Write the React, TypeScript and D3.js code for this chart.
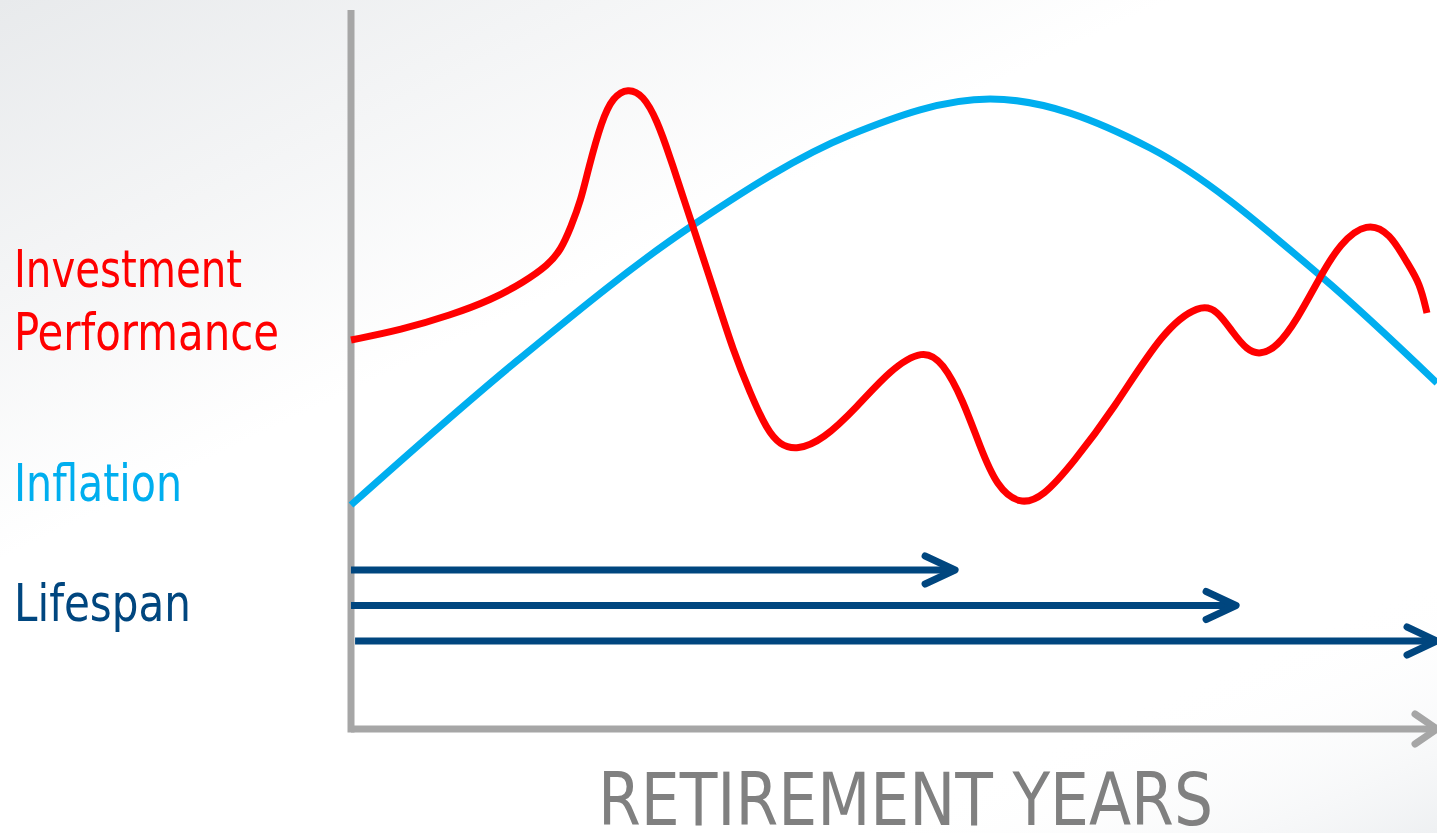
import React from "react";
import * as d3 from "d3";

// Years into retirement (x) and relative level (y, 0–100)
const performanceYears = [0, 1.84, 3.68, 5.16, 6.37, 7.26, 7.73, 8.1, 8.47, 8.73, 9.24, 9.65, 10.2, 10.76, 11.27, 11.75, 12.23, 12.6, 13.48, 14.07, 14.7, 15.32, 15.8, 16.43, 17.38, 18.64, 19.85, 21.07, 21.8, 22.54, 23.17, 23.79, 24.64, 25.49, 26.59, 28.07, 29.91, 31.27, 31.9, 32.49, 33.0, 33.48, 34.11, 34.84, 35.69, 36.43, 37.42, 38.27, 38.9, 39.37, 39.63];
const performanceValues = [55.57, 57.0, 59.14, 61.29, 63.86, 66.29, 68.43, 71.71, 75.57, 79.86, 87.0, 90.29, 91.57, 90.57, 87.0, 81.71, 76.0, 71.71, 61.29, 54.14, 48.0, 42.71, 40.57, 39.86, 41.29, 46.0, 51.29, 54.29, 52.43, 47.0, 40.29, 34.57, 32.0, 33.14, 38.0, 45.57, 57.0, 60.71, 59.86, 56.57, 54.14, 53.43, 54.57, 58.43, 64.57, 69.43, 72.43, 70.86, 66.57, 63.71, 59.43];

const inflationYears = [0, 6.15, 12.6, 18.38, 23.54, 29.43, 35.76, 40];
const inflationValues = [32.0, 52.71, 72.0, 84.86, 90.0, 83.0, 64.57, 49.43];

const lifespanIds = ["short", "medium", "long"];
const lifespanStart = [0, 0, 0.15];
const lifespanEnd = [22.25, 32.6, 40];

const seriesLabels = ["Investment", "Performance", "Inflation", "Lifespan"];
const labelWidths = [228, 265, 168, 177];
const axisTitle = "RETIREMENT YEARS";

const W = 1437;
const H = 833;
const FONT = "'Liberation Sans Narrow', 'Arial Narrow', 'DejaVu Sans Condensed', sans-serif";

export default function App() {
  const x = d3.scaleLinear().domain([0, 40]).range([351, 1437]);
  const y = d3.scaleLinear().domain([0, 100]).range([729, 29]);
  const lane = d3.scalePoint<string>().domain(lifespanIds).range([570, 641]);

  const smooth = d3
    .line<[number, number]>()
    .x((d) => x(d[0]))
    .y((d) => y(d[1]))
    .curve(d3.curveBasis);

  const arc = d3
    .line<[number, number]>()
    .x((d) => x(d[0]))
    .y((d) => y(d[1]))
    .curve(d3.curveMonotoneX);

  const perf = smooth(performanceYears.map((v, i) => [v, performanceValues[i]]) as [number, number][]) || "";
  const infl = arc(inflationYears.map((v, i) => [v, inflationValues[i]]) as [number, number][]) || "";

  const axisX0 = x(0);
  const axisY0 = y(0);
  const axisEnd = x(40);

  const labelColors = ["#ff0000", "#ff0000", "#00aeef", "#00467f"];
  const labelBaselines = [287, 350, 501, 621];

  return (
    <svg width={W} height={H} style={{ position: "absolute", left: 0, top: 0 }}>
      <defs>
        <linearGradient id="bgLeft" x1="0" y1="0" x2="0.33" y2="0.4">
          <stop offset="0" stopColor="#e8eaec" />
          <stop offset="1" stopColor="#ffffff" />
        </linearGradient>
        <linearGradient id="bgRight" x1="1" y1="1" x2="0.85" y2="0.8">
          <stop offset="0" stopColor="#eef0f2" stopOpacity="1" />
          <stop offset="1" stopColor="#ffffff" stopOpacity="0" />
        </linearGradient>
      </defs>
      <rect width={W} height={H} fill="url(#bgLeft)" />
      <rect width={W} height={H} fill="url(#bgRight)" />

      {/* axes */}
      <line x1={axisX0} x2={axisX0} y1={10} y2={axisY0 + 3.5} stroke="#a6a6a6" strokeWidth={7} />
      <line x1={axisX0} x2={axisEnd - 2} y1={axisY0} y2={axisY0} stroke="#a6a6a6" strokeWidth={7} />
      <path
        d={`M${axisEnd - 22},${axisY0 - 15} L${axisEnd},${axisY0} L${axisEnd - 22},${axisY0 + 15}`}
        fill="none"
        stroke="#a6a6a6"
        strokeWidth={7}
        strokeLinecap="round"
        strokeLinejoin="round"
      />

      {/* lifespan arrows */}
      {lifespanIds.map((id, i) => {
        const yy = lane(id) as number;
        const x0 = x(lifespanStart[i]);
        const x1 = x(lifespanEnd[i]);
        return (
          <g key={id}>
            <line x1={x0} x2={x1 - 4} y1={yy} y2={yy} stroke="#00467f" strokeWidth={7} />
            <path
              d={`M${x1 - 30},${yy - 14} L${x1},${yy} L${x1 - 30},${yy + 14}`}
              fill="none"
              stroke="#00467f"
              strokeWidth={7}
              strokeLinecap="round"
              strokeLinejoin="round"
            />
          </g>
        );
      })}

      {/* inflation and investment performance */}
      <path d={infl} fill="none" stroke="#00aeef" strokeWidth={7} />
      <path d={perf} fill="none" stroke="#ff0000" strokeWidth={7} strokeLinejoin="round" />

      {/* series labels */}
      <g fontFamily={FONT} fontSize={52}>
        {seriesLabels.map((t, i) => (
          <text
            key={t}
            x={14}
            y={labelBaselines[i]}
            fill={labelColors[i]}
            textLength={labelWidths[i]}
            lengthAdjust="spacingAndGlyphs"
          >
            {t}
          </text>
        ))}
      </g>

      <text
        x={598}
        y={825}
        fontFamily={FONT}
        fontSize={73}
        fill="#808080"
        textLength={615}
        lengthAdjust="spacingAndGlyphs"
      >
        {axisTitle}
      </text>
    </svg>
  );
}
